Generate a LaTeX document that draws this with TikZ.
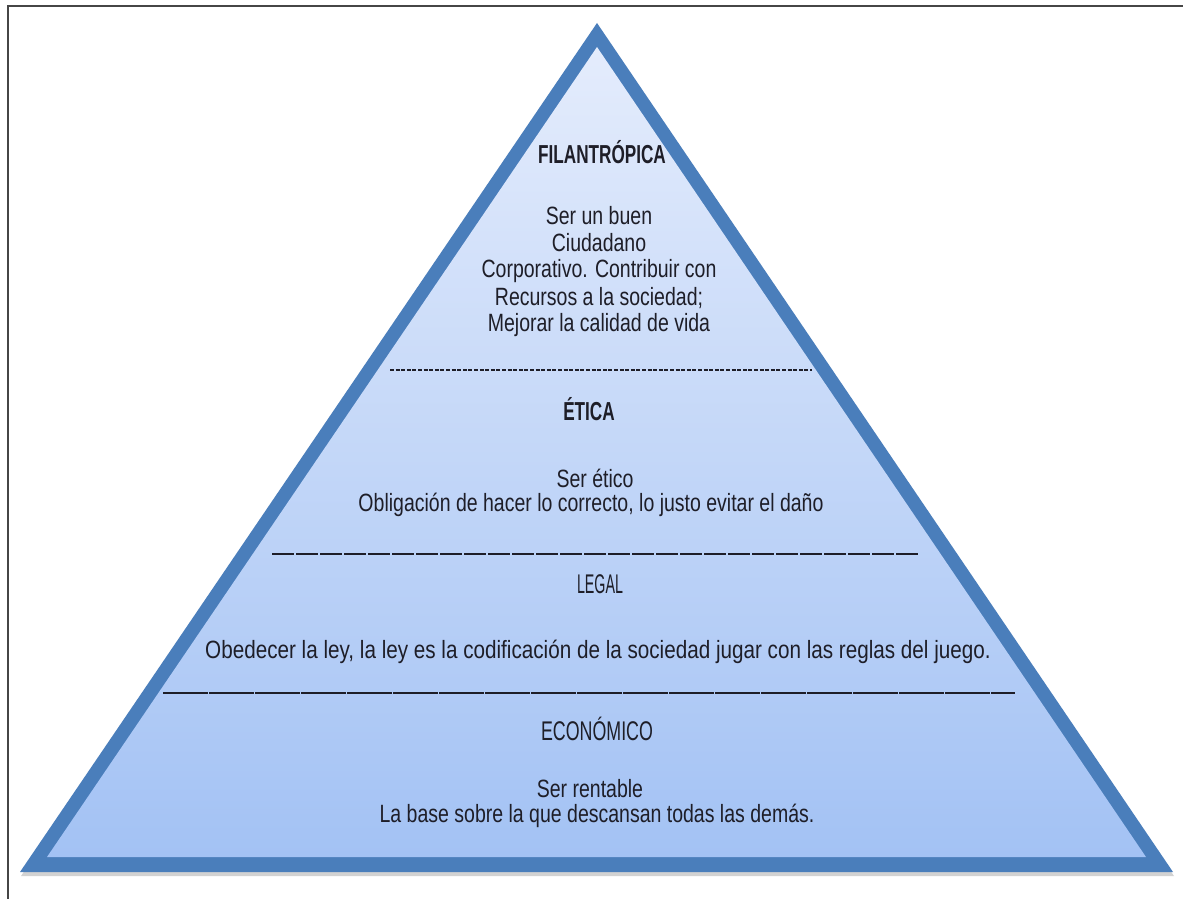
\documentclass[tikz,border=0pt]{standalone}
\usepackage{fontspec}
\setmainfont{Liberation Sans}
\newfontfamily\bodyfont{Liberation Sans}[FakeStretch=0.78]
\newfontfamily\headfont{Liberation Sans}[FakeStretch=0.66]
\definecolor{pyrborder}{RGB}{74,126,187}
\definecolor{pyrtop}{RGB}{228,236,252}
\definecolor{pyrbot}{RGB}{163,194,244}
\definecolor{txtcol}{RGB}{30,30,40}
\definecolor{framecol}{RGB}{70,70,70}
\tikzset{
  bodytxt/.style={inner sep=0pt, text=txtcol, font=\bodyfont\fontsize{25}{27}\selectfont},
  headtxt/.style={inner sep=0pt, text=txtcol, font=\headfont\fontsize{27}{27}\selectfont},
  headbold/.style={headtxt, font=\headfont\bfseries\fontsize{26}{27}\selectfont},
  divider/.style={draw=txtcol}
}
\begin{document}
\begin{tikzpicture}[x=1pt,y=-1pt]
\useasboundingbox (0,0) rectangle (1183,899);
\fill[white] (0,0) rectangle (1183,899);
% frame
\draw[framecol, line width=2pt] (8,899) -- (8,6) -- (1183,6);
% pyramid
\fill[gray, opacity=0.35] (21,876) -- (597,27) -- (1174,876) -- cycle;
\fill[pyrborder] (20,872) -- (597,23) -- (1173,872) -- cycle;
\shade[top color=pyrtop, bottom color=pyrbot] (47,857) -- (597,47) -- (1146,857) -- cycle;
% dividers
\draw[divider, line width=1.1pt, dash pattern=on 4pt off 1.6pt] (390,370) -- (812,370);
\draw[divider, line width=1.6pt, dash pattern=on 22pt off 2pt] (272,554) -- (918,554);
\draw[divider, line width=2pt, dash pattern=on 45pt off 1pt] (163,693) -- (1015,693);
% FILANTROPICA
\node[headbold] (fil) at (602,152) {FILANTRÓPICA};
\node[bodytxt] (f1) at (599,216) {Ser un buen};
\node[bodytxt] (f2) at (599,243) {Ciudadano};
\node[bodytxt] (f3) at (599,271) {Corporativo. Contribuir con};
\node[bodytxt] (f4) at (599,298) {Recursos a la sociedad;};
\node[bodytxt] (f5) at (599,325) {Mejorar la calidad de vida};
% ETICA
\node[headbold] (eti) at (589,409) {ÉTICA};
\node[bodytxt] (e1) at (595,478) {Ser ético};
\node[bodytxt] (e2) at (591,505) {Obligación de hacer lo correcto, lo justo evitar el daño};
% LEGAL
\node[headtxt] (leg) at (600,584) {\scalebox{0.8}[1]{LEGAL}};
\node[bodytxt] (l1) at (598,652) {\scalebox{1.06}[1]{Obedecer la ley, la ley es la codificación de la sociedad jugar con las reglas del juego.}};
% ECONOMICO
\node[headtxt] (eco) at (597,729) {ECONÓMICO};
\node[bodytxt] (c1) at (590,789) {Ser rentable};
\node[bodytxt] (c2) at (597,816) {La base sobre la que descansan todas las demás.};
\end{tikzpicture}
\end{document}
